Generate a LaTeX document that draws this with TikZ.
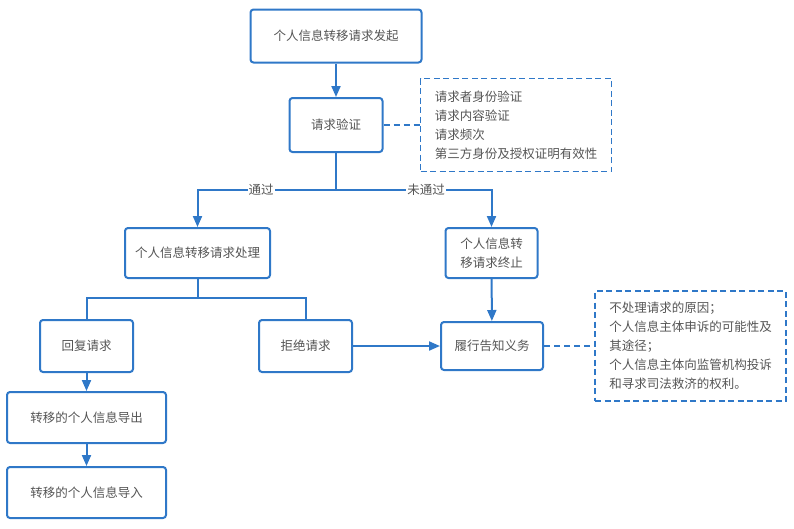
\documentclass[tikz,border=0pt]{standalone}
\usepackage{fontspec}
\setmainfont{Noto Sans CJK SC}
\usetikzlibrary{arrows.meta}
\definecolor{flowblue}{HTML}{2F78C8}
\definecolor{flowtext}{HTML}{555555}
\tikzset{
	stepbox/.style = {draw = flowblue, line width = 2pt, rounded corners = 3pt, fill = white,
		text = flowtext, align = center, inner sep = 0pt, font = \fontsize{12.5}{18}\selectfont},
	notebox/.style = {draw = flowblue, line width = 1.8pt, dash pattern = on 6pt off 3.5pt,
		text = flowtext, align = left, inner xsep = 10pt, inner ysep = 0pt, anchor = center,
		font = \fontsize{12.5}{19}\selectfont},
	flow/.style = {draw = flowblue, line width = 2pt},
	flowarrow/.style = {flow, -{Triangle[length = 11pt, width = 9pt]}},
	link/.style = {draw = flowblue, line width = 1.8pt, dash pattern = on 6pt off 4pt},
	tag/.style = {fill = white, text = flowtext, inner sep = 1pt, font = \fontsize{12.5}{15}\selectfont}
}
\begin{document}
\begin{tikzpicture} [x = 1pt, y = -1pt]
	\useasboundingbox (0,0) rectangle (794,528);
	% main column
	\node [stepbox, minimum width = 171pt, minimum height = 53pt] (start) at (336,36) {个人信息转移请求发起};
	\node [stepbox, minimum width = 93pt, minimum height = 54pt] (verify) at (336,125) {请求验证};
	\node [notebox, minimum width = 191pt, minimum height = 93pt] (checks) at (516,125)
		{请求者身份验证\\请求内容验证\\请求频次\\第三方身份及授权证明有效性};
	\coordinate (fork) at (336,190);
	% second row
	\node [stepbox, minimum width = 145pt, minimum height = 50pt] (handle) at (197.5,253) {个人信息转移请求处理};
	\node [stepbox, minimum width = 92pt, minimum height = 50pt, font = \fontsize{12.5}{19}\selectfont] (stop) at (491.5,253) {个人信息转\\移请求终止};
	\coordinate (split) at (197.5,298);
	% third row
	\node [stepbox, minimum width = 93pt, minimum height = 52pt] (reply) at (86.5,346) {回复请求};
	\node [stepbox, minimum width = 93pt, minimum height = 52pt] (refuse) at (305.5,346) {拒绝请求};
	\node [stepbox, minimum width = 102pt, minimum height = 48pt] (inform) at (492,346) {履行告知义务};
	\node [notebox, minimum width = 191pt, minimum height = 110pt] (reasons) at (690.5,346)
		{不处理请求的原因；\\个人信息主体申诉的可能性及\\其途径；\\个人信息主体向监管机构投诉\\和寻求司法救济的权利。};
	% bottom column
	\node [stepbox, minimum width = 159pt, minimum height = 51pt] (export) at (86.5,417.5) {转移的个人信息导出};
	\node [stepbox, minimum width = 159pt, minimum height = 51pt] (import) at (86.5,492.5) {转移的个人信息导入};
	% connectors
	\draw [flowarrow] (start) -- (verify);
	\draw [link] (verify) -- (checks);
	\draw [flow] (verify) -- (fork);
	\draw [flowarrow] (fork) -| node [tag, pos = 0.27] {通过} (handle);
	\draw [flowarrow] (fork) -| node [tag, pos = 0.29] {未通过} (stop);
	\draw [flow] (handle) -- (split) -| (reply);
	\draw [flow] (split) -| (refuse);
	\draw [flowarrow] (stop) -- (inform);
	\draw [flowarrow] (refuse) -- (inform);
	\draw [link] (inform) -- (reasons);
	\draw [flowarrow] (reply) -- (export);
	\draw [flowarrow] (export) -- (import);
\end{tikzpicture}
\end{document}
